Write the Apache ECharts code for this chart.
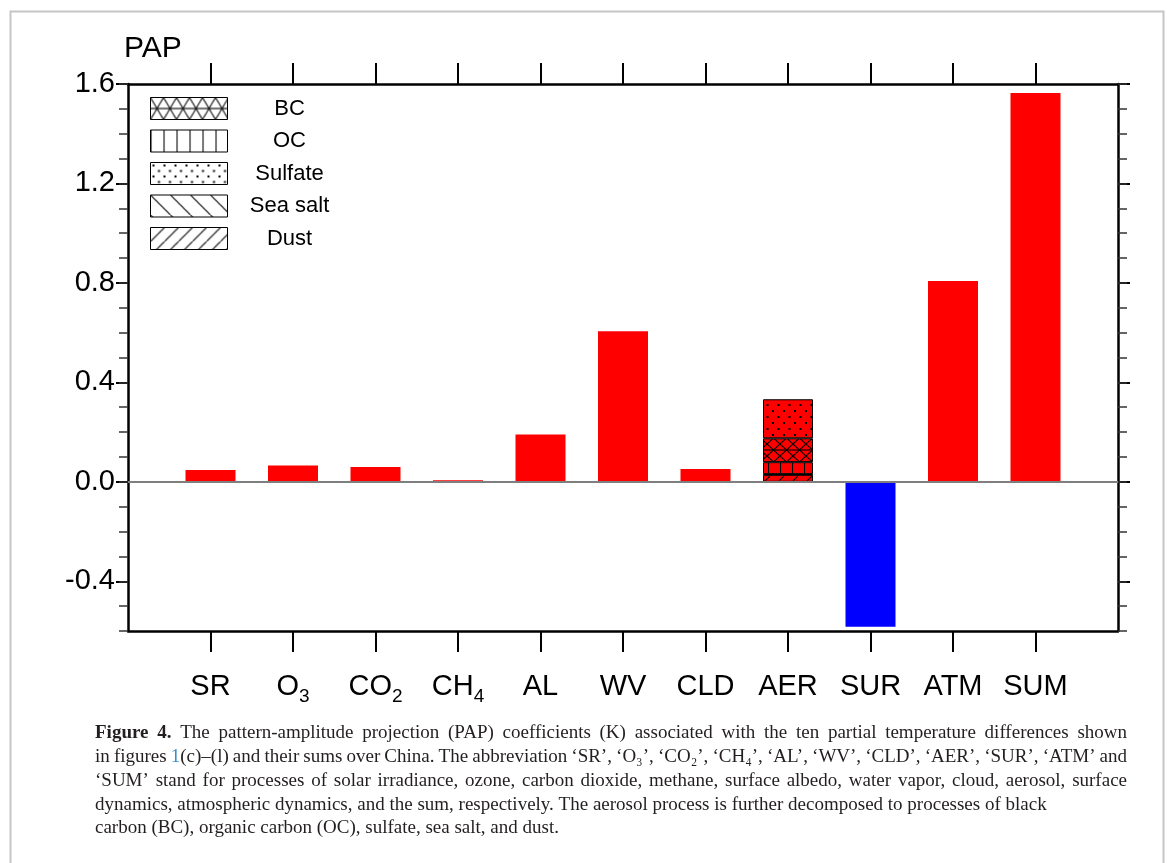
<!DOCTYPE html>
<html>
<head>
<meta charset="utf-8">
<script src="https://cdn.jsdelivr.net/npm/echarts@6/dist/echarts.min.js"></script>
<style>
html,body{margin:0;padding:0;background:#fff;}
#chart{width:1168px;height:863px;}
</style>
</head>
<body>
<div id="chart"></div>
<script>
// ---- data ----
const categories = ['SR', 'O3', 'CO2', 'CH4', 'AL', 'WV', 'CLD', 'AER', 'SUR', 'ATM', 'SUM'];
const totals = [0.048, 0.066, 0.060, 0.006, 0.190, 0.606, 0.052, null, -0.583, 0.808, 1.564];
// aerosol decomposition (AER bar), stacked bottom-up
const aerStackOrder = ['Dust', 'Sea salt', 'OC', 'BC', 'Sulfate'];
const aerValues = [0.028, 0.003, 0.048, 0.096, 0.157];
const legendOrder = ['BC', 'OC', 'Sulfate', 'Sea salt', 'Dust'];
const yMajorTicks = [-0.4, 0.0, 0.4, 0.8, 1.2, 1.6];
const yName = 'PAP';
const captionLines = [
  '{b|Figure} {b|4.} The pattern-amplitude projection (PAP) coefficients (K) associated with the ten partial temperature differences shown',
  'in figures {a|1}(c)–(l) and their sums over China. The abbreviation ‘SR’, ‘O₃’, ‘CO₂’, ‘CH₄’, ‘AL’, ‘WV’, ‘CLD’, ‘AER’, ‘SUR’, ‘ATM’ and',
  '‘SUM’ stand for processes of solar irradiance, ozone, carbon dioxide, methane, surface albedo, water vapor, cloud, aerosol, surface',
  'dynamics, atmospheric dynamics, and the sum, respectively. The aerosol process is further decomposed to processes of black',
  'carbon (BC), organic carbon (OC), sulfate, sea salt, and dust.'
];
const captionJustified = [true, true, true, false, false];

// ---- patterns ----
function tile(w, h, bg, draw) {
  const c = document.createElement('canvas');
  c.width = w; c.height = h;
  const x = c.getContext('2d');
  x.fillStyle = bg; x.fillRect(0, 0, w, h);
  x.strokeStyle = '#000'; x.fillStyle = '#000'; x.lineWidth = 1.1;
  draw(x, w, h);
  return { image: c, repeat: 'repeat' };
}
function line(x, a, b, c, d) { x.beginPath(); x.moveTo(a, b); x.lineTo(c, d); x.stroke(); }
const drawers = {
  'BC': (x, w, h) => { line(x, 0, 0, w, h); line(x, w, 0, 0, h); line(x, 0, h / 2, w, h / 2); },
  'OC': (x, w, h) => { line(x, 0.5, 0, 0.5, h); },
  'Sulfate': (x, w, h) => { x.fillRect(2, 2, 2, 2); x.fillRect(w / 2 + 2, h / 2 + 2, 2, 2); },
  'Sea salt': (x, w, h) => { line(x, -1, -1, w + 1, h + 1); },
  'Dust': (x, w, h) => { line(x, -1, h + 1, w + 1, -1); }
};
const barTile = { 'BC': [13, 12], 'OC': [12, 12], 'Sulfate': [11, 12], 'Sea salt': [14, 14], 'Dust': [14, 14] };
const legTile = { 'BC': [13, 22], 'OC': [13, 22], 'Sulfate': [11, 11], 'Sea salt': [20, 20], 'Dust': [14, 14] };
function barPattern(n) { return tile(barTile[n][0], barTile[n][1], '#ff0000', drawers[n]); }
function legPattern(n) { return tile(legTile[n][0], legTile[n][1], '#ffffff', drawers[n]); }

// ---- axis helpers ----
const axisCats = [''].concat(categories, ['']);
const pad = arr => [null].concat(arr, [null]);
const aerIndex = categories.indexOf('AER');
function catLabel(v) {
  if (!v) return '';
  const m = v.match(/^(.*?)(\d)$/);
  return m ? '{b|' + m[1] + '}{s|' + m[2] + '}' : '{b|' + v + '}';
}
const axisColor = '#000';
const sansFont = 'Liberation Sans, Arial, Helvetica, sans-serif';

const xBase = {
  type: 'category', data: axisCats, boundaryGap: false,
  axisLine: { show: true, onZero: false, lineStyle: { color: axisColor, width: 2.5 } },
  axisTick: { show: true, inside: false, length: 21, interval: (i) => i > 0 && i < axisCats.length - 1, lineStyle: { color: axisColor, width: 2 } },
  splitLine: { show: false }
};
const yBase = { type: 'value', min: -0.6, max: 1.6, splitLine: { show: false } };

// ---- caption layout (justified words) ----
const capFamily = '"Liberation Serif", "Times New Roman", serif';
const capSize = 19;
const capLeft = 95, capRight = 1127, capTop = 724, capStep = 23.75;
const capColor = '#231f20';
const mctx = document.createElement('canvas').getContext('2d');
function segs(word) {
  const out = []; const re = /\{(\w)\|([^}]*)\}/g; let last = 0, m;
  while ((m = re.exec(word))) {
    if (m.index > last) out.push({ t: word.slice(last, m.index), s: '' });
    out.push({ t: m[2], s: m[1] }); last = re.lastIndex;
  }
  if (last < word.length) out.push({ t: word.slice(last), s: '' });
  return out;
}
function measure(word) {
  return segs(word).reduce((w, g) => {
    mctx.font = (g.s === 'b' ? 'bold ' : '') + capSize + 'px ' + capFamily;
    return w + mctx.measureText(g.t).width;
  }, 0);
}
mctx.font = capSize + 'px ' + capFamily;
const spaceW = mctx.measureText(' ').width;
const captionGraphics = [];
captionLines.forEach((ln, i) => {
  const words = ln.split(' ');
  const widths = words.map(measure);
  const total = widths.reduce((a, b) => a + b, 0);
  const gap = captionJustified[i] ? (capRight - capLeft - total) / (words.length - 1) : spaceW;
  let x = capLeft;
  words.forEach((w, k) => {
    captionGraphics.push({
      type: 'text', x: x, y: capTop + i * capStep, silent: true,
      style: {
        text: w, fontFamily: capFamily, fontSize: capSize, fill: capColor,
        rich: {
          b: { fontWeight: 'bold', fontFamily: capFamily, fontSize: capSize, fill: capColor },
          a: { fontFamily: capFamily, fontSize: capSize, fill: '#3b8cc9' }
        }
      }
    });
    x += widths[k] + gap;
  });
});

const chart = echarts.init(document.getElementById('chart'), null, { renderer: 'canvas' });
const option = {
  backgroundColor: '#fff',
  animation: false,
  grid: { left: 128, right: 50, top: 84, bottom: 232, containLabel: false },
  legend: {
    orient: 'vertical', left: 150, top: 97, padding: 0, selectedMode: false,
    itemWidth: 77, itemHeight: 22, itemGap: 9.5, icon: 'rect',
    data: legendOrder.map(n => ({ name: n, itemStyle: { color: legPattern(n), borderColor: '#000', borderWidth: 1 } })),
    formatter: n => '{t|' + n + '}',
    textStyle: { rich: { t: { width: 114, align: 'center', fontSize: 22, fontFamily: sansFont, color: '#000' } } }
  },
  xAxis: [
    Object.assign({}, xBase, {
      position: 'bottom',
      axisLabel: {
        show: true, margin: 41, formatter: catLabel, interval: 0,
        rich: {
          b: { fontSize: 29, lineHeight: 29, height: 29, fontFamily: sansFont, color: '#000', verticalAlign: 'top' },
          s: { fontSize: 19, lineHeight: 34, height: 19, fontFamily: sansFont, color: '#000', verticalAlign: 'bottom' }
        }
      }
    }),
    Object.assign({}, xBase, { position: 'top', axisLabel: { show: false } })
  ],
  yAxis: [
    Object.assign({}, yBase, {
      position: 'left',
      name: yName, nameLocation: 'end', nameGap: 20,
      nameTextStyle: { fontSize: 30, fontFamily: sansFont, color: '#000', align: 'left', verticalAlign: 'bottom', padding: [0, 0, 0, -4] },
      axisLine: { show: true, lineStyle: { color: axisColor, width: 2.5 } },
      axisTick: { show: true, length: 12, customValues: yMajorTicks, lineStyle: { color: axisColor, width: 2 } },
      axisLabel: { show: true, customValues: yMajorTicks, margin: 13, fontSize: 29, fontFamily: sansFont, color: '#000', formatter: v => v.toFixed(1) }
    }),
    Object.assign({}, yBase, {
      position: 'left', interval: 0.1,
      axisLine: { show: false },
      axisTick: { show: true, length: 9, lineStyle: { color: '#333', width: 1.5 } },
      axisLabel: { show: false }
    }),
    Object.assign({}, yBase, {
      position: 'right',
      axisLine: { show: true, lineStyle: { color: axisColor, width: 2.5 } },
      axisTick: { show: true, length: 12, customValues: yMajorTicks, lineStyle: { color: axisColor, width: 2 } },
      axisLabel: { show: false }
    }),
    Object.assign({}, yBase, {
      position: 'right', interval: 0.1,
      axisLine: { show: false },
      axisTick: { show: true, length: 9, lineStyle: { color: '#333', width: 1.5 } },
      axisLabel: { show: false }
    })
  ],
  series: [
    {
      name: 'Total', type: 'bar', xAxisIndex: 0, yAxisIndex: 0,
      data: pad(totals), barWidth: 50, barGap: '-100%',
      itemStyle: { color: p => (p.value < 0 ? '#0000ff' : '#ff0000') },
      markLine: {
        silent: true, symbol: 'none', label: { show: false },
        lineStyle: { color: '#7f7f7f', width: 2, type: 'solid' },
        data: [{ yAxis: 0 }]
      }
    }
  ].concat(aerStackOrder.map((n, k) => ({
    name: n, type: 'bar', stack: 'aer', xAxisIndex: 0, yAxisIndex: 0,
    barWidth: 50, barGap: '-100%',
    data: pad(categories.map((c, i) => (i === aerIndex ? aerValues[k] : null))),
    itemStyle: { color: barPattern(n), borderColor: '#000', borderWidth: 1 }
  }))),
  graphic: [
    { type: 'rect', left: 8, top: 9, shape: { width: 1153, height: 900 }, style: { fill: 'none', stroke: '#c6c6c6', lineWidth: 2 }, silent: true }
  ].concat(captionGraphics)
};
chart.setOption(option);
</script>
</body>
</html>
